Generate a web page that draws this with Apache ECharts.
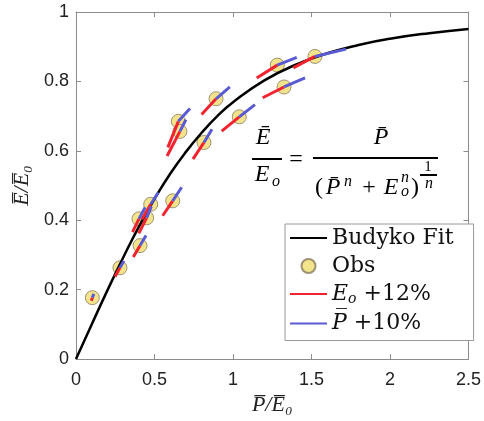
<!DOCTYPE html>
<html>
<head>
<meta charset="utf-8">
<script src="https://cdn.jsdelivr.net/npm/echarts@6/dist/echarts.min.js"></script>
<style>
html, body { margin: 0; padding: 0; background: #fff; }
#chart { width: 484px; height: 421px; }
</style>
</head>
<body>
<div id="chart"></div>
<script>
// Budyko fit curve
var fitX = [0, 0.1, 0.2, 0.3, 0.4, 0.5, 0.6, 0.7, 0.8, 0.9, 1.0, 1.2, 1.4, 1.6, 1.8, 2.0, 2.25, 2.5];
var fitY = [0, 0.0998, 0.198, 0.292, 0.381, 0.461, 0.534, 0.597, 0.652, 0.700, 0.740, 0.803, 0.848, 0.881, 0.905, 0.923, 0.939, 0.951];

// observed points
var obsX = [0.104, 0.28, 0.408, 0.401, 0.45, 0.476, 0.616, 0.652, 0.662, 0.815, 0.892, 1.04, 1.282, 1.325, 1.522];
var obsY = [0.177, 0.263, 0.327, 0.404, 0.407, 0.446, 0.456, 0.685, 0.656, 0.624, 0.75, 0.698, 0.847, 0.784, 0.872];

// E_o +12% : segment start (ends at obs point)
var eoX = [0.098, 0.248, 0.365, 0.36, 0.40, 0.42, 0.552, 0.585, 0.58, 0.745, 0.80, 0.928, 1.151, 1.189, 1.384];
var eoY = [0.168, 0.237, 0.294, 0.366, 0.362, 0.403, 0.413, 0.61, 0.585, 0.576, 0.705, 0.657, 0.81, 0.753, 0.839];

// P +10% : segment end (starts at obs point)
var pX = [0.114, 0.305, 0.446, 0.44, 0.48, 0.524, 0.673, 0.726, 0.70, 0.866, 0.98, 1.14, 1.406, 1.459, 1.72];
var pY = [0.188, 0.283, 0.356, 0.437, 0.44, 0.48, 0.495, 0.722, 0.69, 0.662, 0.784, 0.733, 0.869, 0.81, 0.893];

var axisColor = '#8c8c8c';
var serif = 'Liberation Serif';

function segs(xs, ys, fromObs) {
    var out = [];
    for (var i = 0; i < obsX.length; i++) {
        if (fromObs) {
            out.push([obsX[i], obsY[i]], [xs[i], ys[i]]);
        } else {
            out.push([xs[i], ys[i]], [obsX[i], obsY[i]]);
        }
        out.push(['-', '-']);
    }
    return out;
}

function txt(s, x, y, size, italic) {
    return {
        type: 'text', x: x, y: y, z: 100,
        style: {
            text: s, fontSize: size, fontFamily: serif,
            fontStyle: italic ? 'italic' : 'normal',
            fill: '#000', align: 'center', verticalAlign: 'middle'
        }
    };
}
function bar(x1, x2, y) {
    return {
        type: 'line', z: 100,
        shape: { x1: x1, y1: y, x2: x2, y2: y },
        style: { stroke: '#000', lineWidth: 2 }
    };
}

var chart = echarts.init(document.getElementById('chart'));

var xBase = {
    type: 'value', min: 0, max: 2.5, interval: 0.5,
    axisLine: { show: true, onZero: false, lineStyle: { color: axisColor, width: 1 } },
    axisTick: { show: true, inside: true, length: 5, lineStyle: { color: axisColor } },
    splitLine: { show: false }
};
var yBase = {
    type: 'value', min: 0, max: 1, interval: 0.2,
    axisLine: { show: true, onZero: false, lineStyle: { color: axisColor, width: 1 } },
    axisTick: { show: true, inside: true, length: 5, lineStyle: { color: axisColor } },
    splitLine: { show: false }
};

var option = {
    backgroundColor: '#fff',
    animation: false,
    grid: { left: 76, right: 15, top: 12, bottom: 60 },
    xAxis: [
        Object.assign({}, xBase, {
            position: 'bottom',
            axisLabel: { color: '#222', fontSize: 18, fontFamily: 'Liberation Sans', margin: 12 },
            name: 'P\u0305/E\u0305\u2080',
            nameLocation: 'middle',
            nameGap: 30,
            nameTextStyle: { fontFamily: serif, fontStyle: 'italic', fontSize: 22, color: '#222' }
        }),
        Object.assign({}, xBase, { position: 'top', axisLabel: { show: false } })
    ],
    yAxis: [
        Object.assign({}, yBase, {
            position: 'left',
            axisLabel: { color: '#222', fontSize: 18, fontFamily: 'Liberation Sans', margin: 7 },
            name: 'E\u0305/E\u0305\u2080',
            nameLocation: 'middle',
            nameGap: 38,
            nameRotate: 90,
            nameTextStyle: { fontFamily: serif, fontStyle: 'italic', fontSize: 22, color: '#222' }
        }),
        Object.assign({}, yBase, { position: 'right', axisLabel: { show: false } })
    ],
    legend: {
        orient: 'vertical',
        left: 285, top: 224,
        padding: [3, 20, 6, 4],
        itemWidth: 37, itemHeight: 14, itemGap: 6,
        borderColor: '#9a9a9a', borderWidth: 1,
        backgroundColor: '#fff',
        data: [
            { name: 'Budyko Fit', itemStyle: { opacity: 0 } },
            { name: 'Obs' },
            { name: 'Eo +12%', itemStyle: { opacity: 0 } },
            { name: 'P +10%', itemStyle: { opacity: 0 } }
        ],
        formatter: function(name) {
            if (name === 'Eo +12%') return '{i|E}{s|o}{t| +12%}';
            if (name === 'P +10%') return '{i|P\u0305}{t| +10%}';
            return '{t|' + name + '}';
        },
        textStyle: {
            rich: {
                t: { fontFamily: 'DejaVu Serif', fontSize: 22, lineHeight: 25, color: '#111' },
                i: { fontFamily: 'DejaVu Serif', fontStyle: 'italic', fontSize: 22, lineHeight: 25, color: '#111' },
                s: { fontFamily: 'DejaVu Serif', fontStyle: 'italic', fontSize: 14, lineHeight: 14, verticalAlign: 'bottom', color: '#111' }
            }
        }
    },
    graphic: [
        txt('E\u0304', 263, 138, 24, true),
        bar(252, 282, 159),
        txt('E', 262, 175, 24, true),
        txt('o', 276, 182, 16, true),
        txt('=', 296, 160, 24, false),
        bar(313, 438, 158),
        txt('P\u0304', 381, 138, 24, true),
        txt('(', 319, 188, 24, false),
        txt('P\u0304', 333, 188, 24, true),
        txt('n', 348, 182, 16, true),
        txt('+', 369, 188, 24, false),
        txt('E', 391, 188, 24, true),
        txt('n', 405, 178, 16, true),
        txt('o', 405, 192, 16, true),
        txt(')', 415, 188, 24, false),
        txt('1', 428, 167, 15, false),
        bar(420, 437, 175),
        txt('n', 429, 184, 16, true)
    ],
    series: [{
        name: 'Budyko Fit',
        type: 'line',
        data: fitX.map(function(x, i) { return [x, fitY[i]]; }),
        smooth: true,
        symbol: 'none',
        lineStyle: { color: '#000', width: 2.5 },
        itemStyle: { color: '#000' },
        z: 3
    }, {
        name: 'Obs',
        type: 'scatter',
        data: obsX.map(function(x, i) { return [x, obsY[i]]; }),
        symbolSize: 14,
        itemStyle: { color: '#f3e48c', borderColor: '#9e9272', borderWidth: 1, opacity: 1 },
        z: 2
    }, {
        name: 'Eo +12%',
        type: 'line',
        data: segs(eoX, eoY, false),
        symbol: 'none',
        connectNulls: false,
        lineStyle: { color: '#f2232e', width: 3 },
        itemStyle: { color: '#f2232e' },
        z: 4
    }, {
        name: 'P +10%',
        type: 'line',
        data: segs(pX, pY, true),
        symbol: 'none',
        connectNulls: false,
        lineStyle: { color: '#5a5ad2', width: 3 },
        itemStyle: { color: '#5a5ad2' },
        z: 5
    }]
};

chart.setOption(option);
</script>
</body>
</html>
